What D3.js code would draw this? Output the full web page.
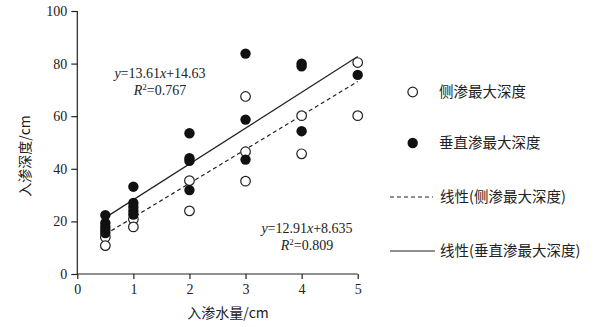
<!DOCTYPE html>
<html><head><meta charset="utf-8">
<script src="https://cdn.jsdelivr.net/npm/d3@7"></script>
<style>
body{margin:0;background:#fff;}
text{fill:#222;}
</style></head>
<body>
<svg id="c" width="600" height="327"></svg>
<script>
// Data
const lateralX = [0.5, 0.5, 1, 1, 2, 2, 3, 3, 3, 4, 4, 5, 5];
const lateralY = [14, 10.8, 20.8, 17.9, 35.5, 24, 67.5, 46.5, 35.3, 60.2, 45.7, 80.4, 60.2];
const verticalX = [0.5, 0.5, 0.5, 0.5, 0.5, 1, 1, 1, 1, 1, 2, 2, 2, 2, 3, 3, 3, 4, 4, 4, 5];
const verticalY = [22.4, 19.4, 18, 16.8, 15.6, 33.2, 27, 25.5, 24, 22.6, 53.5, 44, 43, 31.9, 83.8, 58.7, 43.5, 80, 79, 54.3, 75.7];
const xTicks = [0, 1, 2, 3, 4, 5];
const yTicks = [0, 20, 40, 60, 80, 100];
const fitLateral = {slope: 12.91, intercept: 8.635, r2: "0.809", label: "y=12.91x+8.635"};
const fitVertical = {slope: 13.61, intercept: 14.63, r2: "0.767", label: "y=13.61x+14.63"};
const legendLabels = ["侧渗最大深度", "垂直渗最大深度", "线性(侧渗最大深度)", "线性(垂直渗最大深度)"];
const xTitle = "入渗水量/cm";
const yTitle = "入渗深度/cm";

const svg = d3.select("#c");
const x = d3.scaleLinear().domain([0, 5]).range([77.3, 357.7]);
const y = d3.scaleLinear().domain([0, 100]).range([274, 11]);
const serif = "'Liberation Serif','DejaVu Serif',serif";
const cjk = "'Noto Sans CJK SC','Liberation Serif',serif";

// axes
const gx = svg.append("g").attr("transform", `translate(0,${y(0)})`)
  .call(d3.axisBottom(x).tickValues(xTicks).tickSize(5).tickPadding(5).tickFormat(d3.format("d")));
const gy = svg.append("g").attr("transform", `translate(${x(0)},0)`)
  .call(d3.axisLeft(y).tickValues(yTicks).tickSize(6).tickPadding(4).tickFormat(d3.format("d")));
[gx, gy].forEach(g => {
  g.selectAll("text").attr("font-family", serif).attr("font-size", 14).attr("fill", "#222");
  g.selectAll("line,path").attr("stroke", "#222").attr("stroke-width", 1.2);
});
gx.select(".domain").attr("d", `M${x(0)},0H${x(5)}`);
gy.select(".domain").attr("d", `M0,${y(100)}V${y(0)}`);

// fit lines
function fitLine(f, dash) {
  svg.append("line")
    .attr("x1", x(0.5)).attr("y1", y(f.slope * 0.5 + f.intercept))
    .attr("x2", x(5)).attr("y2", y(f.slope * 5 + f.intercept))
    .attr("stroke", "#222").attr("stroke-width", 1.2)
    .attr("stroke-dasharray", dash || null);
}
fitLine(fitLateral, "4,3");
fitLine(fitVertical);

// points
svg.append("g").selectAll("circle").data(lateralX.map((d, i) => [d, lateralY[i]]))
  .join("circle").attr("cx", d => x(d[0])).attr("cy", d => y(d[1])).attr("r", 4.8)
  .attr("fill", "#fff").attr("stroke", "#222").attr("stroke-width", 1.2);
svg.append("g").selectAll("circle").data(verticalX.map((d, i) => [d, verticalY[i]]))
  .join("circle").attr("cx", d => x(d[0])).attr("cy", d => y(d[1])).attr("r", 5.2)
  .attr("fill", "#111");

// equations
function eq(f, cx, by) {
  const t = svg.append("text").attr("x", cx).attr("y", by).attr("text-anchor", "middle")
    .attr("font-family", serif).attr("font-size", 14);
  t.append("tspan").attr("font-style", "italic").text("y");
  t.append("tspan").text("=" + f.slope.toFixed(2));
  t.append("tspan").attr("font-style", "italic").text("x");
  t.append("tspan").text("+" + f.intercept);
  const r = svg.append("text").attr("x", cx).attr("y", by + 17).attr("text-anchor", "middle")
    .attr("font-family", serif).attr("font-size", 14);
  r.append("tspan").attr("font-style", "italic").text("R");
  r.append("tspan").attr("font-size", 9).attr("dy", -5).text("2");
  r.append("tspan").attr("dy", 5).text("=" + f.r2);
}
eq(fitVertical, 160, 78);
eq(fitLateral, 307, 233);

// axis titles
svg.append("text").attr("x", 228).attr("y", 318).attr("text-anchor", "middle")
  .attr("font-family", cjk).attr("font-size", 14).text(xTitle);
svg.append("text").attr("transform", "translate(30,156) rotate(-90)").attr("text-anchor", "middle")
  .attr("font-family", cjk).attr("font-size", 14).text(yTitle);

// legend
const lg = svg.append("g");
const ly = [92, 143, 197, 251];
lg.append("circle").attr("cx", 412.7).attr("cy", ly[0]).attr("r", 4.8)
  .attr("fill", "#fff").attr("stroke", "#222").attr("stroke-width", 1.2);
lg.append("circle").attr("cx", 412.7).attr("cy", ly[1]).attr("r", 5.2).attr("fill", "#111");
lg.append("line").attr("x1", 390).attr("x2", 433).attr("y1", ly[2]).attr("y2", ly[2])
  .attr("stroke", "#222").attr("stroke-width", 1.2).attr("stroke-dasharray", "4,3");
lg.append("line").attr("x1", 390).attr("x2", 435).attr("y1", ly[3]).attr("y2", ly[3])
  .attr("stroke", "#222").attr("stroke-width", 1.2);
legendLabels.forEach((s, i) => {
  lg.append("text").attr("x", i < 2 ? 439 : 440).attr("y", ly[i]).attr("dy", "0.35em")
    .attr("font-family", cjk).attr("font-size", 14.5).text(s);
});
</script>
</body></html>
